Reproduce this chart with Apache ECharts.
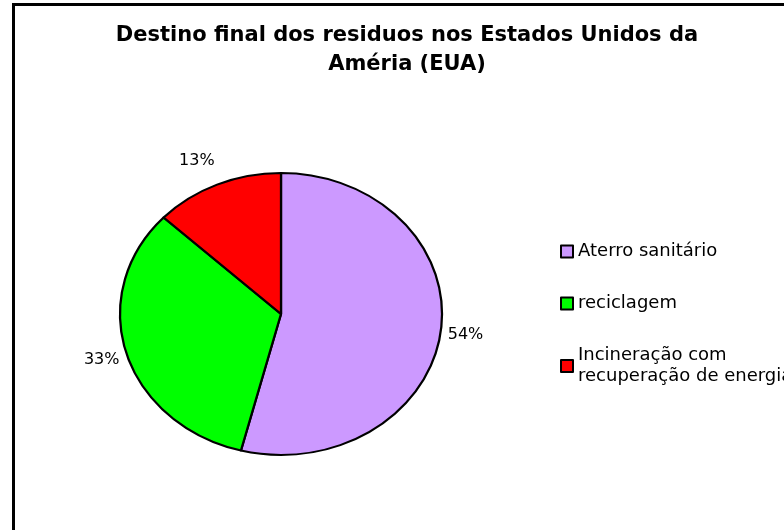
<!DOCTYPE html>
<html>
<head>
<meta charset="utf-8">
<title>Destino final dos residuos</title>
<script src="https://cdn.jsdelivr.net/npm/echarts@6/dist/echarts.min.js"></script>
<style>
  html, body { margin: 0; padding: 0; background: #fff; }
  #chart { width: 784px; height: 530px; }
</style>
</head>
<body>
<div id="chart"></div>
<script>
// values
const categories = ['Aterro sanitário', 'reciclagem', 'Incineração com recuperação de energia']
const shares = [54, 33, 13]
const sliceColors = ['#cc99ff', '#00ff00', '#ff0000']

// the old excel pie is an ellipse, a bit wider than tall
const pieCenter = [281, 314]
const pieRadius = 141
const stretchX = 1.142

const chart = echarts.init(document.getElementById('chart'))

chart.setOption({
  animation: false,
  color: sliceColors,
  textStyle: { fontFamily: 'DejaVu Sans' },
  title: {
    text: 'Destino final dos residuos nos Estados Unidos da\nAméria (EUA)',
    left: 407,
    top: 21,
    padding: 0,
    textAlign: 'center',
    textStyle: {
      fontFamily: 'DejaVu Sans',
      fontWeight: 'bold',
      fontSize: 21,
      lineHeight: 29,
      color: '#000'
    }
  },
  legend: {
    orient: 'vertical',
    left: 560,
    top: 241,
    padding: 0,
    icon: 'rect',
    itemWidth: 12,
    itemHeight: 12,
    itemGap: 31,
    itemStyle: { borderColor: '#000', borderWidth: 2 },
    textStyle: { fontSize: 18, lineHeight: 21, color: '#000' },
    formatter: name => name.replace(' com ', ' com\n')
  },
  // chart frame, only left and top edges show in the picture
  graphic: [{
    type: 'rect',
    silent: true,
    shape: { x: 13.5, y: 4.5, width: 900, height: 700 },
    style: { fill: 'none', stroke: '#000', lineWidth: 3 }
  }],
  series: [{
    type: 'pie',
    center: pieCenter,
    radius: pieRadius,
    startAngle: 90,
    clockwise: true,
    avoidLabelOverlap: false,
    itemStyle: { borderColor: '#000', borderWidth: 2 },
    label: {
      position: 'outside',
      formatter: '{d}%',
      fontSize: 16,
      color: '#000'
    },
    // labels are not stretched with the pie, so they sit further out
    labelLine: { show: false, length: 22, length2: 0 },
    emphasis: { disabled: true },
    data: categories.map((name, i) => {
      const item = { name: name, value: shares[i] }
      // the small slice's label sits higher up in excel
      if (i === 2) item.labelLine = { show: false, length: 26, length2: -5 }
      return item
    })
  }]
})

// stretch the pie horizontally around its centre
const pieView = chart.getViewOfSeriesModel(chart.getModel().getSeriesByIndex(0))
pieView.group.attr({ scaleX: stretchX, originX: pieCenter[0], originY: pieCenter[1] })
chart.getZr().refresh()
</script>
</body>
</html>
